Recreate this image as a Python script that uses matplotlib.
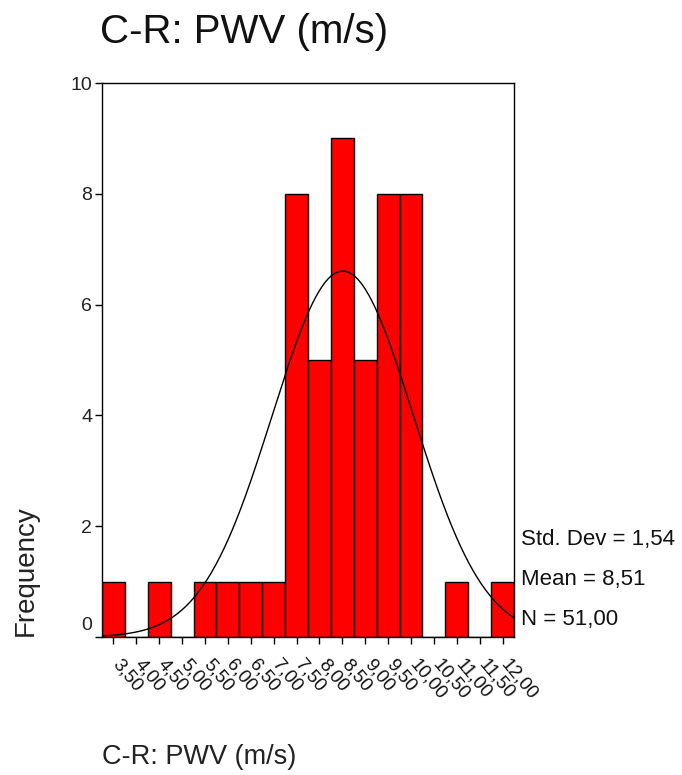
import numpy as np
import matplotlib
matplotlib.use("Agg")
import matplotlib.pyplot as plt
from matplotlib.transforms import ScaledTranslation

plt.rcParams['font.family'] = ['Liberation Sans', 'DejaVu Sans']

# ---- data ----
bin_centers = [3.5, 4.0, 4.5, 5.0, 5.5, 6.0, 6.5, 7.0, 7.5, 8.0, 8.5, 9.0,
               9.5, 10.0, 10.5, 11.0, 11.5, 12.0]
tick_labels = ["3,50", "4,00", "4,50", "5,00", "5,50", "6,00", "6,50", "7,00",
               "7,50", "8,00", "8,50", "9,00", "9,50", "10,00", "10,50",
               "11,00", "11,50", "12,00"]
counts = [1, 0, 1, 0, 1, 1, 1, 1, 8, 5, 9, 5, 8, 8, 0, 1, 0, 1]
bin_width = 0.5
std_dev = 1.54
mean = 8.51
n_obs = 51
title = "C-R: PWV (m/s)"

# ---- figure ----
W, H = 682, 775
fig = plt.figure(figsize=(W / 100, H / 100), dpi=100)
left, right, top, bottom = 102, 514, 83, 637
ax = fig.add_axes([left / W, 1 - bottom / H, (right - left) / W, (bottom - top) / H])

ax.bar(bin_centers, counts, width=bin_width, color="#FF0000",
       edgecolor="black", linewidth=1.0, zorder=2)

xs = np.linspace(bin_centers[0] - bin_width / 2, bin_centers[-1] + bin_width / 2, 400)
ys = n_obs * bin_width / (std_dev * np.sqrt(2 * np.pi)) * np.exp(-0.5 * ((xs - mean) / std_dev) ** 2)
ax.plot(xs, ys, color="black", linewidth=1.0, zorder=3)

ax.set_xlim(bin_centers[0] - bin_width / 2, bin_centers[-1] + bin_width / 2)
ax.set_ylim(0, 10)
ax.tick_params(axis="both", direction="out", length=5, width=1, color="black")
ax.tick_params(axis="y", pad=2)
ax.tick_params(axis="x", pad=6)
ax.set_yticks([0, 2, 4, 6, 8, 10])
ax.set_yticklabels(["0", "2", "4", "6", "8", "10"], fontsize=14, color="#222222")
ax.set_xticks(bin_centers)
ax.set_xticklabels(tick_labels, fontsize=13.5, rotation=-50,
                   ha="left", va="top", rotation_mode="anchor", color="#111111")
for lab in ax.get_xticklabels():
    lab.set_transform(lab.get_transform() + ScaledTranslation(6 / 72, -3 / 72, fig.dpi_scale_trans))
for lab in ax.get_yticklabels():
    if lab.get_text() == "0":
        lab.set_transform(lab.get_transform() + ScaledTranslation(0, 10 / 72, fig.dpi_scale_trans))
for s in ax.spines.values():
    s.set_linewidth(1.0)
    s.set_color("black")

fig.text(100 / W, 1 - 32 / H, title, fontsize=29, ha="left", va="center", color="#111111")
fig.text(102 / W, 1 - 757 / H, title, fontsize=19.5, ha="left", va="center", color="#222222")
fig.text(26 / W, 1 - 636 / H, "Frequency", fontsize=20, rotation=90,
         ha="center", va="bottom", color="#222222")

stats = ["Std. Dev = " + f"{std_dev:.2f}".replace(".", ","),
         "Mean = " + f"{mean:.2f}".replace(".", ","),
         "N = " + f"{n_obs:.2f}".replace(".", ",")]
for txt, yy in zip(stats, [540, 580, 620]):
    fig.text(521 / W, 1 - yy / H, txt, fontsize=16, ha="left", va="center", color="#111111")

fig.savefig("out.png", dpi=100)
